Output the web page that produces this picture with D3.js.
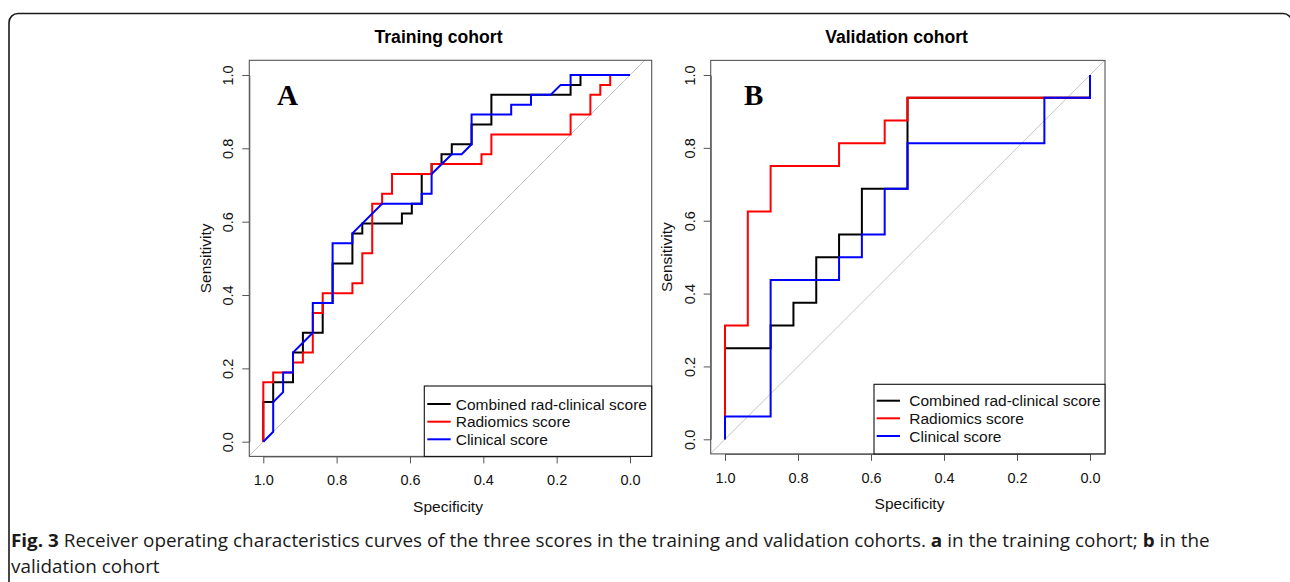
<!DOCTYPE html>
<html><head><meta charset="utf-8">
<script src="https://cdn.jsdelivr.net/npm/d3@7"></script>
<style>body{margin:0;background:#fff} svg{display:block}</style>
</head><body>
<svg id="chart" width="1290" height="582"></svg>
<script>
// ---------- data ----------
const specTicks = [1.0, 0.8, 0.6, 0.4, 0.2, 0.0];
const sensTicks = [0.0, 0.2, 0.4, 0.6, 0.8, 1.0];
const seriesNames = ["Combined rad-clinical score", "Radiomics score", "Clinical score"];
const seriesColors = ["#000000", "#ff0000", "#0000ff"];
const panelTitles = ["Training cohort", "Validation cohort"];
const panelLetters = ["A", "B"];

// Training cohort (A)
const trainCombinedSpec = [1,1,0.973,0.973,0.919,0.919,0.892,0.892,0.838,0.838,0.811,0.811,0.757,0.757,0.730,0.730,0.622,0.622,0.595,0.595,0.568,0.568,0.541,0.541,0.514,0.514,0.486,0.486,0.432,0.432,0.378,0.378,0.162,0.162,0.135,0.135,0];
const trainCombinedSens = [0,0.108,0.108,0.162,0.162,0.243,0.243,0.297,0.297,0.378,0.378,0.486,0.486,0.568,0.568,0.595,0.595,0.622,0.622,0.649,0.649,0.730,0.730,0.757,0.757,0.784,0.784,0.811,0.811,0.865,0.865,0.946,0.946,0.973,0.973,1,1];
const trainRadiomicsSpec = [1,1,0.973,0.973,0.919,0.919,0.892,0.892,0.865,0.865,0.838,0.838,0.757,0.757,0.730,0.730,0.703,0.703,0.676,0.676,0.649,0.649,0.541,0.541,0.405,0.405,0.378,0.378,0.162,0.162,0.108,0.108,0.081,0.081,0.054,0.054,0];
const trainRadiomicsSens = [0,0.162,0.162,0.189,0.189,0.216,0.216,0.243,0.243,0.351,0.351,0.405,0.405,0.432,0.432,0.514,0.514,0.649,0.649,0.676,0.676,0.730,0.730,0.757,0.757,0.784,0.784,0.838,0.838,0.892,0.892,0.946,0.946,0.973,0.973,1,1];
const trainClinicalSpec = [1,0.973,0.973,0.946,0.946,0.919,0.919,0.865,0.865,0.811,0.811,0.757,0.757,0.676,0.568,0.568,0.541,0.541,0.486,0.459,0.432,0.432,0.324,0.324,0.270,0.270,0.216,0.189,0.162,0.162,0];
const trainClinicalSens = [0,0.027,0.108,0.135,0.189,0.189,0.243,0.297,0.378,0.378,0.541,0.541,0.568,0.649,0.649,0.676,0.676,0.730,0.784,0.784,0.811,0.892,0.892,0.919,0.919,0.946,0.946,0.973,0.973,1,1];

// Validation cohort (B)
const validCombinedSpec = [1,1,0.875,0.875,0.8125,0.8125,0.75,0.75,0.6875,0.6875,0.625,0.625,0.5,0.5,0,0];
const validCombinedSens = [0,0.25,0.25,0.3125,0.3125,0.375,0.375,0.5,0.5,0.5625,0.5625,0.6875,0.6875,0.9375,0.9375,1];
const validRadiomicsSpec = [1,1,0.9375,0.9375,0.875,0.875,0.6875,0.6875,0.5625,0.5625,0.5,0.5,0,0];
const validRadiomicsSens = [0,0.3125,0.3125,0.625,0.625,0.75,0.75,0.8125,0.8125,0.875,0.875,0.9375,0.9375,1];
const validClinicalSpec = [1,1,0.875,0.875,0.6875,0.6875,0.625,0.625,0.5625,0.5625,0.5,0.5,0.125,0.125,0,0];
const validClinicalSens = [0,0.0625,0.0625,0.4375,0.4375,0.5,0.5,0.5625,0.5625,0.6875,0.6875,0.8125,0.8125,0.9375,0.9375,1];

// ---------- layout ----------
const svg = d3.select("#chart");
const ARIAL = "'Liberation Sans', Arial, sans-serif";

svg.append("rect").attr("x", 9).attr("y", 13.5).attr("width", 1283).attr("height", 640)
  .attr("rx", 9).attr("fill", "none").attr("stroke", "#1a1a1a").attr("stroke-width", 1.6);

const zip = (s, t) => s.map((v, i) => ({spec: v, sens: t[i]}));

const panels = [
  { title: panelTitles[0], letter: panelLetters[0],
    box: {x0: 249.3, x1: 651.7, y0: 60.3, y1: 456.4},
    xr: [263.3, 630], yr: [441.7, 75],
    titleX: 438.5, xlabX: 448, xlabY: 511.5, ylabX: 210.5, tickLabOff: 16, tickLabY: 485.5,
    letterX: 277, letterY: 105,
    leg: {x0: 424.3, x1: 651.7, y0: 386, y1: 456.4, lx0: 427.3, lx1: 450.7, tx: 455.7, rows: [404, 421.7, 439.3]},
    series: [zip(trainCombinedSpec, trainCombinedSens), zip(trainRadiomicsSpec, trainRadiomicsSens), zip(trainClinicalSpec, trainClinicalSens)] },
  { title: panelTitles[1], letter: panelLetters[1],
    box: {x0: 710.7, x1: 1105, y0: 60.4, y1: 453.9},
    xr: [725, 1090], yr: [439.3, 75],
    titleX: 896.5, xlabX: 909.5, xlabY: 508.5, ylabX: 672, tickLabOff: 16, tickLabY: 483.5,
    letterX: 744, letterY: 105,
    leg: {x0: 874, x1: 1105, y0: 384.3, y1: 453.9, lx0: 876.7, lx1: 900, tx: 909.3, rows: [400.7, 418.3, 436]},
    series: [zip(validCombinedSpec, validCombinedSens), zip(validRadiomicsSpec, validRadiomicsSens), zip(validClinicalSpec, validClinicalSens)] }
];

panels.forEach((p, pi) => {
  const g = svg.append("g");
  const x = d3.scaleLinear().domain([1, 0]).range(p.xr);
  const y = d3.scaleLinear().domain([0, 1]).range(p.yr);
  const b = p.box;

  const clipId = "clip" + pi;
  svg.append("clipPath").attr("id", clipId).append("rect")
    .attr("x", b.x0).attr("y", b.y0).attr("width", b.x1 - b.x0).attr("height", b.y1 - b.y0);

  // title
  g.append("text").attr("x", p.titleX).attr("y", 43).attr("text-anchor", "middle")
    .attr("font-family", ARIAL).attr("font-weight", "bold").attr("font-size", 17.6).attr("fill", "#000")
    .text(p.title);

  // diagonal reference
  const line = d3.line().x(d => x(d.spec)).y(d => y(d.sens));
  g.append("path").attr("clip-path", `url(#${clipId})`)
    .attr("d", line([{spec: 1.2, sens: -0.2}, {spec: -0.2, sens: 1.2}]))
    .attr("fill", "none").attr("stroke", "#c4c4c4").attr("stroke-width", 1);

  // curves
  p.series.forEach((s, si) => {
    g.append("path").attr("d", line(s)).attr("fill", "none")
      .attr("stroke", seriesColors[si]).attr("stroke-width", 2).attr("stroke-linejoin", "miter");
  });

  // box
  g.append("rect").attr("x", b.x0).attr("y", b.y0).attr("width", b.x1 - b.x0).attr("height", b.y1 - b.y0)
    .attr("fill", "none").attr("stroke", "#555").attr("stroke-width", 1.1);

  // x axis
  const xa = g.append("g").attr("transform", `translate(0,${b.y1})`)
    .call(d3.axisBottom(x).tickValues(specTicks).tickFormat(d3.format(".1f")).tickSize(7).tickSizeOuter(0));
  xa.select(".domain").attr("stroke", "#555");
  xa.selectAll(".tick line").attr("stroke", "#555");
  xa.selectAll("text").attr("font-family", ARIAL).attr("font-size", 14.5).attr("fill", "#111")
    .attr("y", p.tickLabY - b.y1).attr("dy", 0);

  // y axis
  const ya = g.append("g").attr("transform", `translate(${b.x0},0)`)
    .call(d3.axisLeft(y).tickValues(sensTicks).tickFormat(d3.format(".1f")).tickSize(7).tickSizeOuter(0));
  ya.select(".domain").attr("stroke", "#555");
  ya.selectAll(".tick line").attr("stroke", "#555");
  ya.selectAll("text").attr("font-family", ARIAL).attr("font-size", 14.5).attr("fill", "#111")
    .attr("transform", "rotate(-90)").attr("x", 0).attr("y", -p.tickLabOff).attr("dy", 0)
    .attr("text-anchor", "middle");

  // axis labels
  g.append("text").attr("x", p.xlabX).attr("y", p.xlabY).attr("text-anchor", "middle")
    .attr("font-family", ARIAL).attr("font-size", 15.5).attr("fill", "#111").text("Specificity");
  const cy = (b.y0 + b.y1) / 2;
  g.append("text").attr("transform", `translate(${p.ylabX},${cy}) rotate(-90)`).attr("text-anchor", "middle")
    .attr("font-family", ARIAL).attr("font-size", 15.5).attr("fill", "#111").text("Sensitivity");

  // panel letter
  g.append("text").attr("x", p.letterX).attr("y", p.letterY)
    .attr("font-family", "'Liberation Serif', 'Times New Roman', serif").attr("font-weight", "bold")
    .attr("font-size", 29).attr("fill", "#000").text(p.letter);

  // legend
  const L = p.leg;
  g.append("rect").attr("x", L.x0).attr("y", L.y0).attr("width", L.x1 - L.x0).attr("height", L.y1 - L.y0)
    .attr("fill", "#fff").attr("stroke", "#111").attr("stroke-width", 1.1);
  seriesNames.forEach((n, i) => {
    g.append("line").attr("x1", L.lx0).attr("x2", L.lx1).attr("y1", L.rows[i]).attr("y2", L.rows[i])
      .attr("stroke", seriesColors[i]).attr("stroke-width", 2);
    g.append("text").attr("x", L.tx).attr("y", L.rows[i]).attr("dy", "0.36em")
      .attr("font-family", ARIAL).attr("font-size", 15.5).attr("fill", "#111").text(n);
  });
});

// caption (condensed appearance: larger type, horizontally scaled to the reference width)
const CAP = "'Open Sans', 'Noto Sans', sans-serif";
const capFs = 18.5;
const capG = svg.append("g");
const cap1 = capG.append("text").attr("x", 0).attr("y", 547.5).attr("font-family", CAP).attr("font-size", capFs).attr("fill", "#1a1a1a");
const parts = [["Fig. 3", true], [" Receiver operating characteristics curves of the three scores in the training and validation cohorts. ", false],
  ["a", true], [" in the training cohort; ", false], ["b", true], [" in the", false]];
parts.forEach(([t, bold]) => cap1.append("tspan").attr("font-weight", bold ? "bold" : "normal").text(t));
const len = cap1.node().getComputedTextLength();
const sx = 1199 / len;
capG.append("text").attr("x", 0).attr("y", 573.5).attr("font-family", CAP).attr("font-size", capFs)
  .attr("fill", "#1a1a1a").text("validation cohort");
capG.attr("transform", `translate(11,0) scale(${sx},1)`);
</script>
</body></html>
